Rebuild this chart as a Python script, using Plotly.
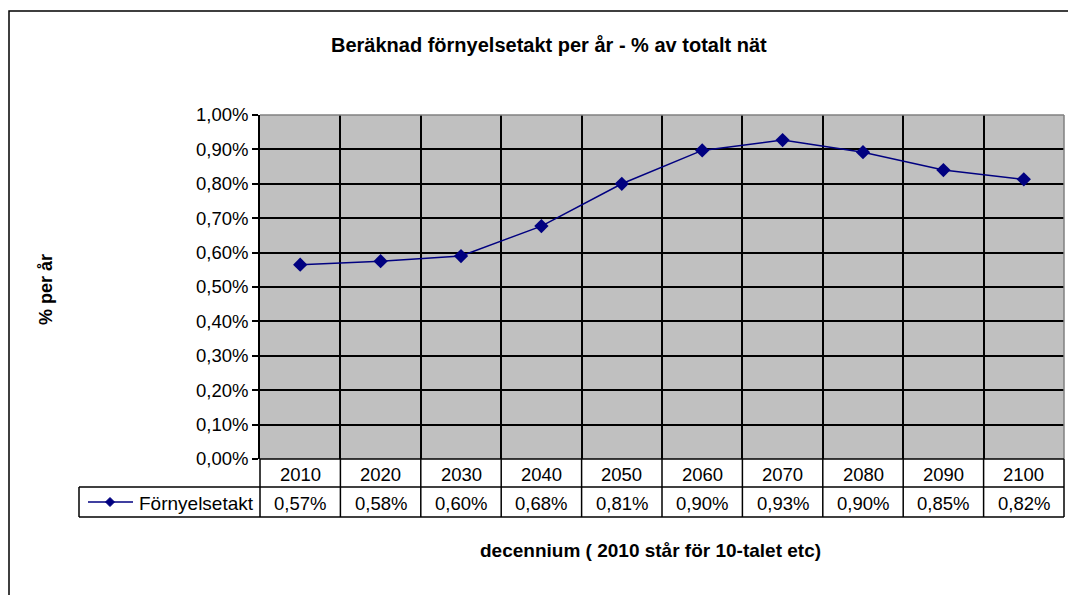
import plotly.graph_objects as go

# ---- data ----
decades = [2010, 2020, 2030, 2040, 2050, 2060, 2070, 2080, 2090, 2100]
rate = [0.00565, 0.00575, 0.0059, 0.00677, 0.0080, 0.00897, 0.00927, 0.00892, 0.0084, 0.00813]
table_labels = ["0,57%", "0,58%", "0,60%", "0,68%", "0,81%", "0,90%", "0,93%", "0,90%", "0,85%", "0,82%"]
series_name = "Förnyelsetakt"
title_text = "Beräknad förnyelsetakt per år - % av totalt nät"
y_title = "% per år"
x_title = "decennium ( 2010 står för 10-talet etc)"

# page body has an 8px margin: work in absolute page pixels and subtract it
OFF = 8
W, H = 1076 - OFF, 595 - OFF
L_abs, R_abs, T_abs, B_abs = 260, 1064, 115, 459
FONT = "Liberation Sans, Arial, sans-serif"
NAVY = "#000080"

def px(x):
    return (x - L_abs) / (R_abs - L_abs)

def py(y):
    return (B_abs - y) / (B_abs - T_abs)

fig = go.Figure()
fig.add_trace(go.Scatter(
    x=decades, y=rate, mode="lines+markers", name=series_name,
    line=dict(color=NAVY, width=1.5),
    marker=dict(symbol="diamond", size=11, color=NAVY),
    showlegend=False,
))

shapes = []
# outer chart frame
shapes.append(dict(type="rect", xref="paper", yref="paper",
                   x0=px(9), x1=px(1100), y0=py(620), y1=py(11),
                   line=dict(color="black", width=1.5), layer="below"))
# plot area top/right gray border
shapes.append(dict(type="line", xref="paper", yref="paper", x0=0, x1=1, y0=1, y1=1,
                   line=dict(color="#808080", width=1.5)))
shapes.append(dict(type="line", xref="paper", yref="paper", x0=1, x1=1, y0=0, y1=1,
                   line=dict(color="#808080", width=1.5)))

row1 = 487
row2 = 517
left_leg = 79
blk = dict(color="black", width=1.5)
# horizontal table lines
for yy in (row1, row2):
    shapes.append(dict(type="line", xref="paper", yref="paper", x0=px(left_leg), x1=1,
                       y0=py(yy), y1=py(yy), line=blk))
shapes.append(dict(type="line", xref="paper", yref="paper", x0=0, x1=1,
                   y0=0, y1=0, line=blk))
# vertical table lines (category boundaries)
bounds = [decades[0] - 5] + [d + 5 for d in decades]
for i in range(len(bounds)):
    xp = i / (len(bounds) - 1)
    shapes.append(dict(type="line", xref="paper", yref="paper", x0=xp, x1=xp,
                       y0=py(row2), y1=0, line=blk))
# legend cell left border
shapes.append(dict(type="line", xref="paper", yref="paper", x0=px(left_leg), x1=px(left_leg),
                   y0=py(row2), y1=py(row1), line=blk))
# legend key line + diamond
ky = 502
shapes.append(dict(type="line", xref="paper", yref="paper", x0=px(88), x1=px(133),
                   y0=py(ky), y1=py(ky), line=dict(color=NAVY, width=1.5)))
cx, r = 110, 4.5
shapes.append(dict(type="path", xref="paper", yref="paper",
                   path=f"M {px(cx)},{py(ky - r)} L {px(cx + r)},{py(ky)} L {px(cx)},{py(ky + r)} L {px(cx - r)},{py(ky)} Z",
                   fillcolor=NAVY, line=dict(color=NAVY, width=1)))

TS = 18.5
annotations = []
for d, lab in zip(decades, table_labels):
    annotations.append(dict(x=d, y=py((B_abs + row1) / 2 + 1), xref="x", yref="paper",
                            xanchor="center", yanchor="middle",
                            text=str(d), showarrow=False,
                            font=dict(family=FONT, size=TS, color="black")))
    annotations.append(dict(x=d, y=py((row1 + row2) / 2 + 1), xref="x", yref="paper",
                            xanchor="center", yanchor="middle",
                            text=lab, showarrow=False,
                            font=dict(family=FONT, size=TS, color="black")))
annotations.append(dict(x=px(256), y=py((row1 + row2) / 2 + 1), xref="paper", yref="paper",
                        xanchor="right", yanchor="middle", text=series_name, showarrow=False,
                        font=dict(family=FONT, size=19, color="black")))
annotations.append(dict(x=px(549), y=py(45), xref="paper", yref="paper",
                        xanchor="center", yanchor="middle",
                        text=f"<b>{title_text}</b>", showarrow=False,
                        font=dict(family=FONT, size=20, color="black")))
annotations.append(dict(x=px(650), y=py(550), xref="paper", yref="paper",
                        xanchor="center", yanchor="middle",
                        text=f"<b>{x_title}</b>", showarrow=False,
                        font=dict(family=FONT, size=19, color="black")))
annotations.append(dict(x=px(46), y=py(290), xref="paper", yref="paper",
                        xanchor="center", yanchor="middle",
                        text=f"<b>{y_title}</b>", showarrow=False, textangle=-90,
                        font=dict(family=FONT, size=18, color="black")))

fig.update_layout(
    width=W, height=H,
    margin=dict(l=L_abs - OFF, r=W - (R_abs - OFF), t=T_abs - OFF, b=H - (B_abs - OFF), pad=0),
    paper_bgcolor="white",
    plot_bgcolor="#C0C0C0",
    separators=", ",
    font=dict(family=FONT, size=16, color="black"),
    shapes=shapes,
    annotations=annotations,
    xaxis=dict(range=[bounds[0], bounds[-1]], tick0=bounds[0], dtick=10,
               showgrid=True, gridcolor="black", gridwidth=1.5,
               showticklabels=False, ticks="", zeroline=False, fixedrange=True),
    yaxis=dict(range=[0, 0.01], tick0=0, dtick=0.001, tickformat=".2%",
               showgrid=True, gridcolor="black", gridwidth=1.5,
               showline=True, linecolor="black", linewidth=1.5,
               ticks="outside", ticklen=6, tickcolor="black", tickwidth=1.5,
               tickfont=dict(family=FONT, size=TS, color="black"),
               zeroline=False, fixedrange=True),
)

fig.write_html("out.html")
